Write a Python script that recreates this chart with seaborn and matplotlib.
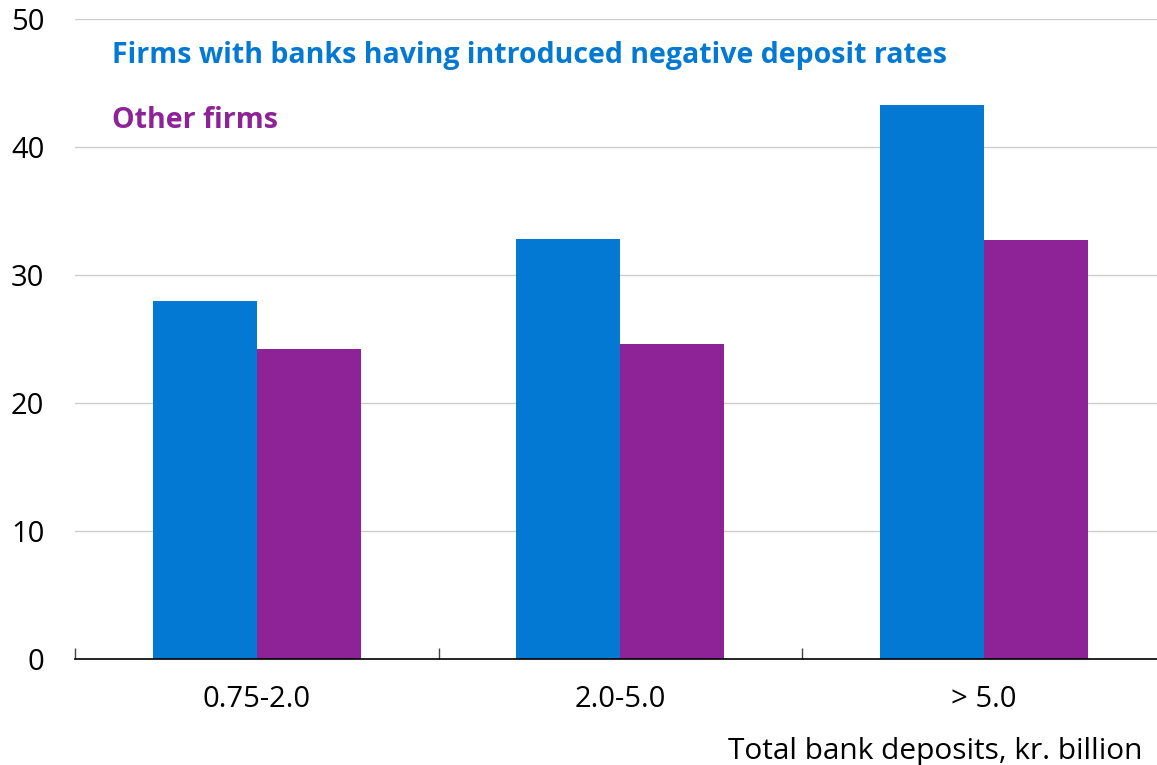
import pandas as pd
import matplotlib.pyplot as plt
import seaborn as sns

# data
categories = ['0.75-2.0', '2.0-5.0', '> 5.0']
negative_rate_banks = [28.0, 32.8, 43.3]
other_firms = [24.2, 24.6, 32.7]
series_names = ['Firms with banks having introduced negative deposit rates', 'Other firms']
colors = ['#0479D3', '#8E2398']

df = pd.DataFrame({
    'group': categories * 2,
    'value': negative_rate_banks + other_firms,
    'series': [series_names[0]] * 3 + [series_names[1]] * 3,
})

sns.set_style('white')
plt.rcParams['font.family'] = ['Open Sans', 'DejaVu Sans']

fig = plt.figure(figsize=(11.57, 7.65), dpi=100)
ax = fig.add_axes([75 / 1157, 1 - 659 / 765, 1 - 75 / 1157, (659 - 19) / 765])

sns.barplot(data=df, x='group', y='value', hue='series', palette=colors,
            width=0.573, gap=0, saturation=1, linewidth=0, ax=ax, legend=False)

ax.set_yticks(range(0, 51, 10))
ax.yaxis.grid(True, color='#cccccc', linewidth=1)
ax.set_axisbelow(True)
for s in ['top', 'right', 'left']:
    ax.spines[s].set_visible(False)
ax.spines['bottom'].set_color('black')
ax.spines['bottom'].set_linewidth(1.2)

ax.tick_params(axis='y', length=0, pad=22, labelsize=21, labelcolor='black')
ax.set_xticks([0, 1, 2])
ax.set_xticklabels(categories)
ax.tick_params(axis='x', length=0, pad=19, labelsize=21, labelcolor='black')
# small upward ticks between groups
ax.set_xticks([-0.5, 0.5, 1.5], minor=True)
ax.tick_params(axis='x', which='minor', bottom=True, direction='in', length=8,
               width=1, color='#444444')
ax.set_xlabel('')
ax.set_ylabel('')
ax.set_ylim(0, 50)
ax.set_xlim(-0.5, -0.5 + 1082 / 363.5)

fig.text(112 / 1157, 1 - 56 / 765, series_names[0], color=colors[0], fontsize=20.5,
         fontweight='bold', va='center', ha='left')
fig.text(112 / 1157, 1 - 120 / 765, series_names[1], color=colors[1], fontsize=20.5,
         fontweight='bold', va='center', ha='left')
fig.text(1143 / 1157, 1 - 751 / 765, 'Total bank deposits, kr. billion', fontsize=21.5,
         color='black', va='center', ha='right')

fig.savefig('out.png', dpi=100)
